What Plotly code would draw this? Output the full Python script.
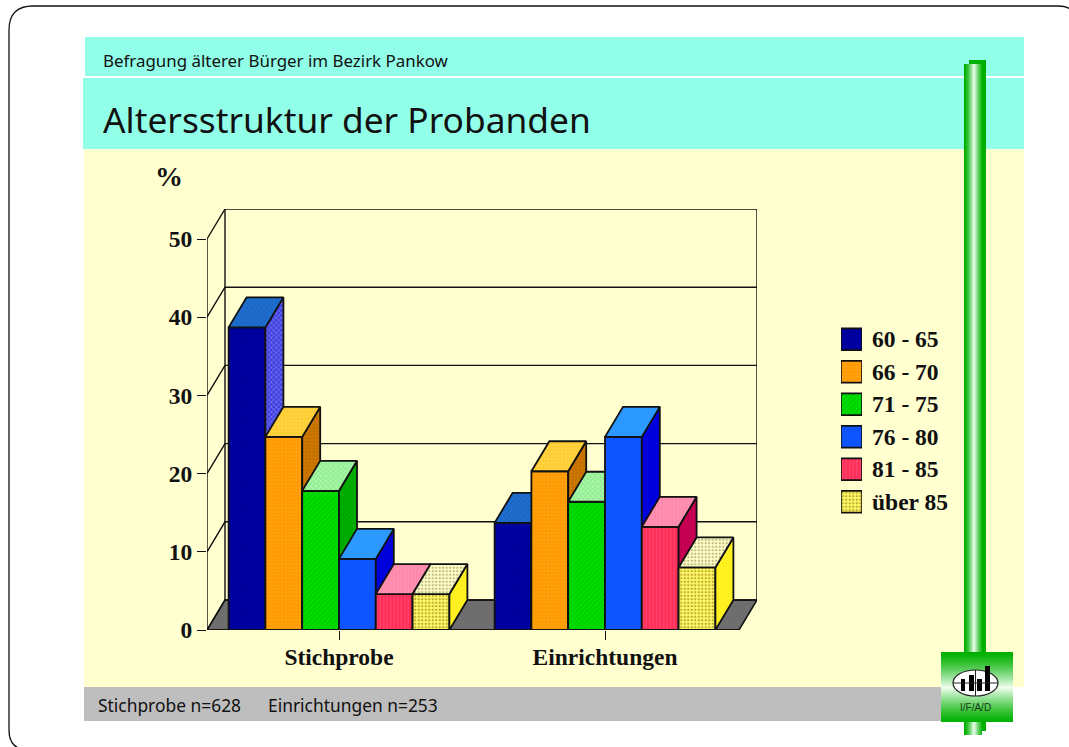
import plotly.graph_objects as go

W, H = 1069, 747

# ---- data ----
groups = ["Stichprobe", "Einrichtungen"]
series = ["60 - 65", "66 - 70", "71 - 75", "76 - 80", "81 - 85", "über 85"]
stichprobe = [38.7, 24.7, 17.8, 9.1, 4.6, 4.6]
einrichtungen = [13.7, 20.3, 16.4, 24.7, 13.2, 8.0]
y_ticks = [0, 10, 20, 30, 40, 50]
front_colors = ["#0000A6", "#FF9A00", "#00E000", "#0F55FF", "#FF2D55", "#FFF765"]
front_fg = ["#000070", "#FFB030", "#00B000", "#0F55FF", "#FF6090", "#706000"]
front_shape = ["x", ".", "/", "", "|", "."]
top_colors = ["#1F6FD0", "#FFCC33", "#90F090", "#2B99FF", "#FF88AA", "#FFFFC8"]
top_fg = ["#1050A0", "#FFE060", "#FFFFFF", "#2B99FF", "#FFA0C0", "#807040"]
top_shape = ["x", ".", "x", "", "|", "."]
side_colors = ["#4040E0", "#CC7700", "#00B000", "#0000DD", "#CC0055", "#FFF020"]
side_fg = ["#C0C0FF", "#B06000", "#009000", "#0000DD", "#A00040", "#FFF020"]
side_shape = ["x", ".", "/", "", "|", ""]

# ---- projection of the fake-3D chart, in axis units ----
BAR_PX, UNIT_PX = 36.8, 7.82
GROUP_GAP = 266 / BAR_PX
DX, DY = 18 / BAR_PX, 30 / UNIT_PX
X0 = -132 / BAR_PX
X1 = 418 / BAR_PX
group_x = [0, GROUP_GAP]
Y_TOP = 50 + DY
LINE = "#111111"


def px(x):
    return x / W


def py(y):
    return 1 - y / H


shapes = []


def rect(x0, y0, x1, y1, color, layer="below"):
    shapes.append(dict(type="rect", xref="paper", yref="paper", x0=px(x0), x1=px(x1),
                       y0=py(y0), y1=py(y1), fillcolor=color, line_width=0, layer=layer))


# page furniture: rounded frame whose right and bottom sides run off the page
r = 24
L, T, R, B = 9, 6, 1078, 750
path = (f"M {px(L)},{py(T + r)} Q {px(L)},{py(T)} {px(L + r)},{py(T)} L {px(R - 20)},{py(T)} "
        f"Q {px(R)},{py(T)} {px(R)},{py(T + 20)} L {px(R)},{py(B - 20)} Q {px(R)},{py(B)} {px(R - 20)},{py(B)} "
        f"L {px(L + 20)},{py(B)} Q {px(L)},{py(B)} {px(L)},{py(B - 20)} Z")
shapes.append(dict(type="path", path=path, xref="paper", yref="paper",
                   line=dict(color="#111111", width=1.3), layer="below"))
rect(85, 37, 1024, 76, "#92FFE9")
rect(83, 78, 1024, 149, "#92FFE9")
rect(84, 149, 1024, 687, "#FFFFD0")
rect(84, 687, 964, 721, "#BEBEBE")


def mix(c1, c2, t):
    return "rgb(%d,%d,%d)" % tuple(round(a + (b - a) * t) for a, b in zip(c1, c2))


GREEN, WHITE = (0, 176, 0), (240, 255, 240)
# green pole, shadow then gradient
rect(969, 60, 986, 731, "#00B000", layer="above")
for i in range(18):
    t = 1 - abs(i - 9.5) / 9.5
    rect(964 + i, 64, 965 + i, 735, mix(GREEN, WHITE, t ** 1.4), layer="above")
# logo
for i in range(70):
    t = 1 - abs(i - 35) / 35
    rect(941, 652 + i, 1013, 653 + i, mix(GREEN, WHITE, t ** 1.3), layer="above")
shapes.append(dict(type="circle", xref="paper", yref="paper", x0=px(953), x1=px(998), y0=py(670), y1=py(696),
                   fillcolor="white", line=dict(color="#222222", width=1.2), layer="above"))
for a, b, c, d in [(961, 679, 965, 691), (969, 675, 974, 691), (977, 679, 982, 691), (985, 666, 990, 691)]:
    rect(a, b, c, d, "black", layer="above")
shapes.append(dict(type="line", xref="paper", yref="paper", x0=px(953), x1=px(998), y0=py(683), y1=py(683),
                   line=dict(color="#222222", width=1), layer="above"))
shapes.append(dict(type="line", xref="paper", yref="paper", x0=px(975.5), x1=px(975.5), y0=py(670), y1=py(696),
                   line=dict(color="#222222", width=1), layer="above"))

fig = go.Figure()

# floor, walls, grid
fig.add_trace(go.Scatter(
    x=[X0, X0 + DX, X1, X1 - DX, X0], y=[0, DY, DY, 0, 0], fill="toself", fillcolor="#6E6E6E",
    mode="lines", line=dict(color=LINE, width=1.5), hoverinfo="skip", showlegend=False, cliponaxis=False, zorder=0))
gx, gy = [], []
for t in y_ticks:
    gx += [X0, X0 + DX, X1, None]
    gy += [t, t + DY, t + DY, None]
gx += [X0, X0, None, X0 + DX, X0 + DX, None, X1, X1, None, X0, X1 - DX]
gy += [0, 50, None, DY, Y_TOP, None, DY, Y_TOP, None, 0, 0]
fig.add_trace(go.Scatter(x=gx, y=gy, mode="lines", line=dict(color=LINE, width=1.4), hoverinfo="skip",
                         showlegend=False, cliponaxis=False, zorder=0))


def hatch(shape, fg, bg):
    return dict(shape=shape, fgcolor=fg, bgcolor=bg, size=3.5, solidity=0.35)


for i, name in enumerate(series):
    xs = [g + i - 2.5 for g in group_x]
    vals = [stichprobe[i], einrichtungen[i]]
    side_x, side_y, top_x, top_y = [], [], [], []
    for xc, v in zip(xs, vals):
        a, b = xc - 0.5, xc + 0.5
        side_x += [b, b + DX, b + DX, b, b, None]
        side_y += [0, DY, v + DY, v, 0, None]
        top_x += [a, a + DX, b + DX, b, a, None]
        top_y += [v, v + DY, v + DY, v, v, None]
    z = i + 1
    fig.add_trace(go.Scatter(x=side_x, y=side_y, fill="toself", fillcolor=side_colors[i], mode="lines",
                             fillpattern=hatch(side_shape[i], side_fg[i], side_colors[i]),
                             line=dict(color=LINE, width=1.8), hoverinfo="skip", showlegend=False,
                             cliponaxis=False, zorder=z))
    fig.add_trace(go.Scatter(x=top_x, y=top_y, fill="toself", fillcolor=top_colors[i], mode="lines",
                             fillpattern=hatch(top_shape[i], top_fg[i], top_colors[i]),
                             line=dict(color=LINE, width=1.8), hoverinfo="skip", showlegend=False,
                             cliponaxis=False, zorder=z))
    pat = hatch(front_shape[i], front_fg[i], front_colors[i])
    fig.add_trace(go.Bar(x=xs, y=vals, width=1, name=name, showlegend=False, cliponaxis=False, zorder=z,
                         marker=dict(color=front_colors[i], pattern=pat, line=dict(color=LINE, width=1.8))))
    # legend swatch as a real bar on its own small subplot
    fig.add_trace(go.Bar(x=[1], y=[name], orientation="h", xaxis="x2", yaxis="y2", showlegend=False,
                         marker=dict(color=front_colors[i], pattern=pat, line=dict(color=LINE, width=1.6))))

SERIF = "Liberation Serif"
SANS = "Noto Sans"
tickfont = dict(family=SERIF, size=23.5, color="#111111", weight=700)

fig.update_layout(
    width=W, height=H, margin=dict(l=0, r=0, t=0, b=0, pad=0), autosize=False,
    paper_bgcolor="white", plot_bgcolor="rgba(0,0,0,0)", barmode="overlay", bargap=0.33,
    showlegend=False, shapes=shapes,
    xaxis=dict(domain=[px(207), px(757)], range=[X0, X1], tickmode="array", tickvals=group_x, ticktext=groups,
               ticks="outside", ticklen=9, tickwidth=1, tickcolor="#111111", tickfont=tickfont, automargin=False,
               showgrid=False, zeroline=False, showline=False, anchor="y", ticklabelstandoff=-3),
    yaxis=dict(domain=[py(630), py(209)], range=[0, Y_TOP], tickmode="array", tickvals=y_ticks, automargin=False,
               ticks="outside", ticklen=9, tickwidth=1, tickcolor="#111111", tickfont=tickfont,
               showgrid=False, zeroline=False, showline=False, anchor="x"),
    xaxis2=dict(domain=[px(841), px(862)], range=[0, 1], visible=False, anchor="y2", automargin=False),
    yaxis2=dict(domain=[py(518), py(323)], type="category", categoryorder="array", categoryarray=series,
                autorange="reversed", side="right", anchor="x2", ticks="", showline=False, showgrid=False,
                zeroline=False, tickfont=tickfont, ticklabelstandoff=9, automargin=False),
)


def label(text, x, y, font):
    fig.add_annotation(text=text, xref="paper", yref="paper", x=px(x), y=py(y), xanchor="left", yanchor="middle",
                       showarrow=False, font=font, align="left", borderpad=0, borderwidth=0)


label("Befragung älterer Bürger im Bezirk Pankow", 103, 60, dict(family=SANS, size=16.9, color="#111111"))
label("Altersstruktur der Probanden", 103, 119, dict(family=SANS, size=35.3, color="#111111"))
label("%", 155, 176, dict(family=SERIF, size=28, color="#111111", weight=700))
label("Stichprobe n=628", 98, 705, dict(family=SANS, size=17.4, color="#111111"))
label("Einrichtungen n=253", 268, 705, dict(family=SANS, size=17.4, color="#111111"))
fig.add_annotation(text="I/F/A/D", xref="paper", yref="paper", x=px(975.5), y=py(707), showarrow=False,
                   xanchor="center", yanchor="middle", font=dict(family="Liberation Sans", size=10, color="#1a3a1a"))

fig.write_html("out.html", config=dict(displayModeBar=False),
               post_script="document.body.style.margin='0';document.body.style.overflow='hidden';")
